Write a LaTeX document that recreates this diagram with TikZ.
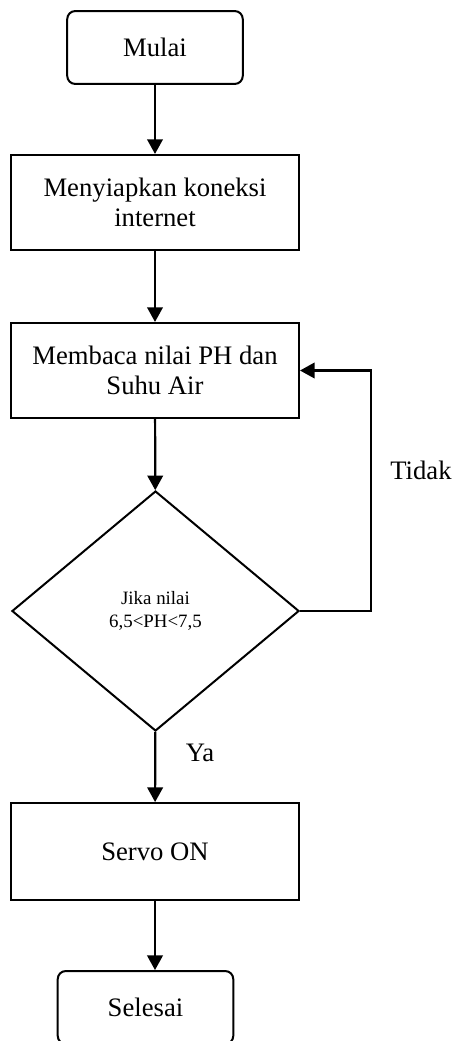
\documentclass[tikz,border=0pt]{standalone}
\usepackage{fontspec}
\setmainfont{Liberation Serif}
\usetikzlibrary{shapes.geometric,arrows.meta}

\begin{document}
\begin{tikzpicture}[x=0.45pt,y=-0.45pt,
  terminal/.style={draw,line width=0.9pt,rounded corners=3.6pt,minimum width=79pt,minimum height=32.8pt,inner sep=0pt},
  proses/.style={draw,line width=0.9pt,minimum width=129.6pt,minimum height=42.8pt,align=center,inner sep=0pt,font=\fontsize{12}{13.6}\selectfont},
  keputusan/.style={draw,diamond,line width=0.9pt,minimum width=129.2pt,minimum height=108pt,align=center,inner sep=0pt,font=\fontsize{8.5}{10}\selectfont},
  panah/.style={-{Triangle[width=7pt,length=6.6pt]},line width=1pt},
  teks/.style={font=\fontsize{12}{14}\selectfont}]

\useasboundingbox (0,0) rectangle (454,1041);

\node[terminal] (mulai) at (155,47.5) {\fontsize{12}{14}\selectfont Mulai};
\node[proses] (siap) at (155,202.5) {Menyiapkan koneksi\\internet};
\node[proses] (baca) at (155,370.5) {Membaca nilai PH dan\\Suhu Air};
\node[keputusan] (cek) at (155.5,611) {Jika nilai\\6,5<PH<7,5};
\node[proses,minimum height=43.6pt] (servo) at (155,851.5) {Servo ON};
\node[terminal] (selesai) at (145.5,1007.5) {\fontsize{12}{14}\selectfont Selesai};

\draw[panah] (mulai) -- (siap);
\draw[panah] (siap) -- (baca);
\draw[panah] (baca) -- (cek);
\draw[panah] (cek) -- (servo);
\draw[panah] (servo.south) -- (servo.south |- selesai.north);
\draw[panah] (cek.east) -- ++(71,0) |- (baca.east);

\node[teks] (tidak) at (421,470) {Tidak};
\node[teks] (ya) at (200,753) {Ya};

\end{tikzpicture}
\end{document}
